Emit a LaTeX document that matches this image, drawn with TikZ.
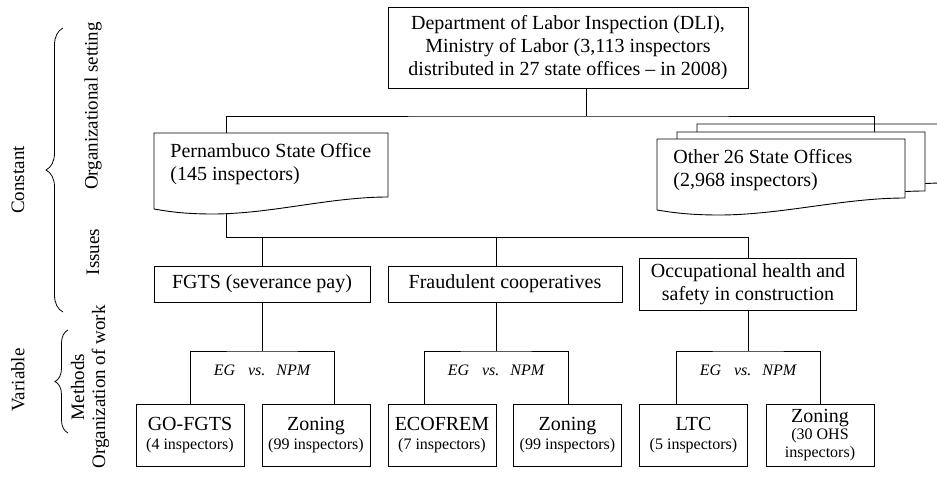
\documentclass[tikz,border=0pt]{standalone}
\usepackage{fontspec}
\setmainfont{Liberation Serif}
\usetikzlibrary{decorations.pathreplacing}
\newcommand\mydocbox[4]{%
  \begin{scope}[shift={(#1,#2)}]
    \draw[fill=white] (0,0) -- (#3,0) -- (#3,#4)
      .. controls ({0.75*#3},#4) and ({0.5*#3},{#4+17}) .. ({0.25*#3},{#4+17})
      .. controls ({0.12*#3},{#4+17}) and ({0.05*#3},{#4+14}) .. (0,{#4+12}) -- cycle;
  \end{scope}}
\newcommand\subf{\fontsize{16}{18}\selectfont}
\begin{document}
\begin{tikzpicture}[x=1pt,y=-1pt,line width=0.9pt,
  every node/.style={text=black},
  big/.style={font=\fontsize{20}{23}\selectfont},
  box/.style={draw,fill=white,inner sep=0pt,align=center,big},
  botbox/.style={draw,fill=white,inner sep=0pt,align=center,minimum width=108pt,minimum height=62pt,font=\fontsize{20}{22}\selectfont},
  egtext/.style={font=\fontsize{16}{18}\selectfont\itshape,inner sep=0pt},
  sidelabel/.style={rotate=90,font=\fontsize{19}{21}\selectfont,align=center,inner sep=0pt},
  bracestyle/.style={decorate,decoration={brace,amplitude=#1},line width=0.8pt}]
\useasboundingbox (0,0) rectangle (937,484);
\clip (0,0) rectangle (937,484);

% top box
\node[box,minimum width=360pt,minimum height=81pt] (dli) at (568,47.5)
  {Department of Labor Inspection (DLI),\\ Ministry of Labor (3,113 inspectors\\ distributed in 27 state offices -- in 2008)};

% stacked other offices (back to front)
\mydocbox{697}{124}{248}{59}
\coordinate (dj) at (586,116);
\coordinate (pernTop) at (226,133);
\coordinate (otherTop) at (874,132);
\draw (dli.south -| dj) -- (dj);
\draw (pernTop) |- (dj) -| (otherTop);
\mydocbox{677}{132}{248}{59}
\mydocbox{657}{139}{248}{59}
\node[big,align=left,anchor=west,inner sep=0pt] (other) at (673,170) {Other 26 State Offices\\(2,968 inspectors)};

% Pernambuco
\mydocbox{154}{133}{234}{64}
\node[big,align=left,anchor=west,inner sep=0pt] (pern) at (170,164) {Pernambuco State Office\\(145 inspectors)};

% issues
\node[box,minimum width=216pt,minimum height=36pt] (fgts) at (262,284) {FGTS (severance pay)};
\node[box,minimum width=234pt,minimum height=36pt] (fraud) at (505,284) {Fraudulent cooperatives};
\node[box,minimum width=217pt,minimum height=52pt] (ohs) at (748,284) {Occupational health and\\safety in construction};

\coordinate (pernBot) at (226,212.5);
\coordinate (ib) at (226,237);
\coordinate (fj) at (496,237);
\draw (pernBot) -- (ib) -| (ohs.north);
\draw (ib -| fgts.north) -- (fgts.north);
\draw (fj) -- (fj |- fraud.north);

% methods
\coordinate (t1) at (262,351);
\coordinate (t2) at (496,351);
\coordinate (t3) at (748,351);
\draw (fgts.south) -- (t1);
\draw (t2 |- fraud.south) -- (t2);
\draw (ohs.south) -- (t3);

\node[botbox] (b1) at (190,435) {GO-FGTS\\[-3pt]\subf (4 inspectors)};
\node[botbox] (b2) at (316,435) {Zoning\\[-3pt]\subf (99 inspectors)};
\node[botbox] (b3) at (442,435) {ECOFREM\\[-3pt]\subf (7 inspectors)};
\node[botbox] (b4) at (567.5,435) {Zoning\\[-3pt]\subf (99 inspectors)};
\node[botbox] (b5) at (693.5,435) {LTC\\[-3pt]\subf (5 inspectors)};
\node[botbox] (b6) at (820,435) {Zoning\\[-5pt]\subf (30 OHS\\[-4pt]\subf inspectors)};

\coordinate (l1a) at (190,404); \coordinate (l1b) at (334,404);
\coordinate (l2a) at (424,404); \coordinate (l2b) at (568,404);
\coordinate (l3a) at (676,404); \coordinate (l3b) at (820,404);
\draw (l1a) |- (t1) -| (l1b);
\draw (l2a) |- (t2) -| (l2b);
\draw (l3a) |- (t3) -| (l3b);

\node[egtext] (eg1) at (262,370) {EG\hspace{13pt}vs.\hspace{11pt}NPM};
\node[egtext] (eg2) at (496,370) {EG\hspace{13pt}vs.\hspace{11pt}NPM};
\node[egtext] (eg3) at (748,370) {EG\hspace{13pt}vs.\hspace{11pt}NPM};

% side labels
\node[sidelabel] (lconst) at (18,180) {Constant};
\node[sidelabel] (lvar) at (18,380) {Variable};
\node[sidelabel] (lorg) at (93,106) {Organizational setting};
\node[sidelabel] (liss) at (93,252) {Issues};
\node[sidelabel] (lmeth) at (90,387) {Methods\\Organization of work};

\coordinate (cb1) at (63,312); \coordinate (ct1) at (63,28);
\coordinate (vb1) at (68,433); \coordinate (vt1) at (68,330);
\draw[bracestyle=17pt] (cb1) -- (ct1);
\draw[bracestyle=13pt] (vb1) -- (vt1);
\end{tikzpicture}
\end{document}
